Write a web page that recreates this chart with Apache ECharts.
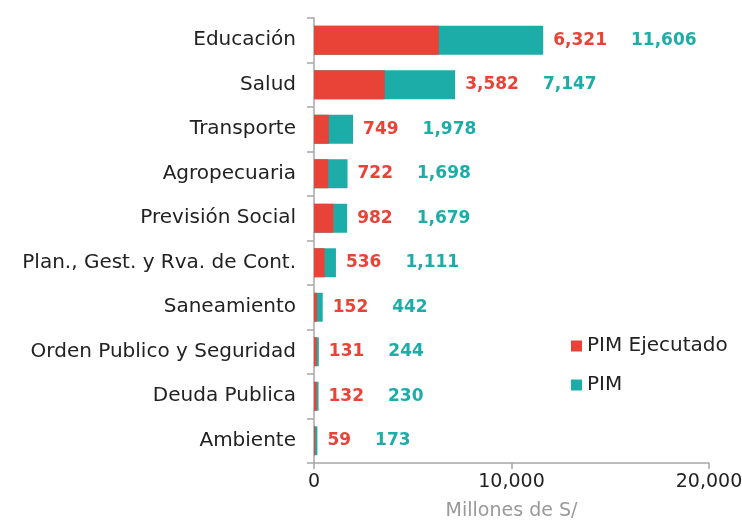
<!DOCTYPE html>
<html>
<head>
<meta charset="utf-8">
<script src="https://cdn.jsdelivr.net/npm/echarts@6/dist/echarts.min.js"></script>
<style>
	html, body { margin: 0; padding: 0; background: #fff; }
	#chart { width: 742px; height: 522px; }
</style>
</head>
<body>
<div id="chart"></div>
<script>
const categories = ['Educación', 'Salud', 'Transporte', 'Agropecuaria', 'Previsión Social', 'Plan., Gest. y Rva. de Cont.', 'Saneamiento', 'Orden Publico y Seguridad', 'Deuda Publica', 'Ambiente'];
const ejecutado = [6321, 3582, 749, 722, 982, 536, 152, 131, 132, 59];
const pim = [11606, 7147, 1978, 1698, 1679, 1111, 442, 244, 230, 173];
const xTicks = [0, 10000, 20000];

const RED = '#E84336';
const TEAL = '#1CADA9';
const FONT = 'DejaVu Sans';
const fmt = (v) => v.toLocaleString('en-US');

const chart = echarts.init(document.getElementById('chart'));
chart.setOption({
	animation: false,
	textStyle: { fontFamily: FONT },
	grid: { left: 314, right: 33, top: 18, bottom: 59, containLabel: false, outerBoundsMode: 'none' },
	legend: {
		data: ['PIM Ejecutado', 'PIM'],
		orient: 'vertical',
		left: 566,
		top: 331,
		itemWidth: 11,
		itemHeight: 11,
		itemGap: 19,
		icon: 'rect',
		textStyle: { fontSize: 20, color: '#222', fontFamily: FONT },
	},
	xAxis: {
		type: 'value',
		min: xTicks[0],
		max: xTicks[xTicks.length - 1],
		interval: 10000,
		name: 'Millones de S/',
		nameLocation: 'middle',
		nameGap: 39,
		nameTextStyle: { fontSize: 19, color: '#999', fontFamily: FONT },
		axisLine: { show: true, lineStyle: { color: '#a6a6a6', width: 1.5 } },
		axisTick: { show: true, length: 6, lineStyle: { color: '#a6a6a6', width: 1.5 } },
		splitLine: { show: false },
		axisLabel: { fontSize: 19, color: '#222', margin: 10, formatter: fmt },
	},
	yAxis: {
		type: 'category',
		data: categories,
		inverse: true,
		axisLine: { show: true, lineStyle: { color: '#a6a6a6', width: 1.5 } },
		axisTick: { show: true, length: 7, lineStyle: { color: '#a6a6a6', width: 1.5 } },
		axisLabel: { fontSize: 20, color: '#222', margin: 18 },
	},
	series: [{
		name: 'PIM',
		type: 'bar',
		data: pim,
		barWidth: '65%',
		itemStyle: { color: TEAL },
		label: {
			show: true,
			position: 'right',
			distance: 10,
			formatter: (p) => `{r|${fmt(ejecutado[p.dataIndex])}}{g|${fmt(p.value)}}`,
			rich: {
				r: { color: RED, fontSize: 17, fontWeight: 'bold', fontFamily: FONT, padding: [0, 24, 0, 0] },
				g: { color: TEAL, fontSize: 17, fontWeight: 'bold', fontFamily: FONT },
			},
		},
	}, {
		name: 'PIM Ejecutado',
		type: 'bar',
		data: ejecutado,
		barWidth: '65%',
		barGap: '-100%',
		itemStyle: { color: RED },
	}],
});
</script>
</body>
</html>
